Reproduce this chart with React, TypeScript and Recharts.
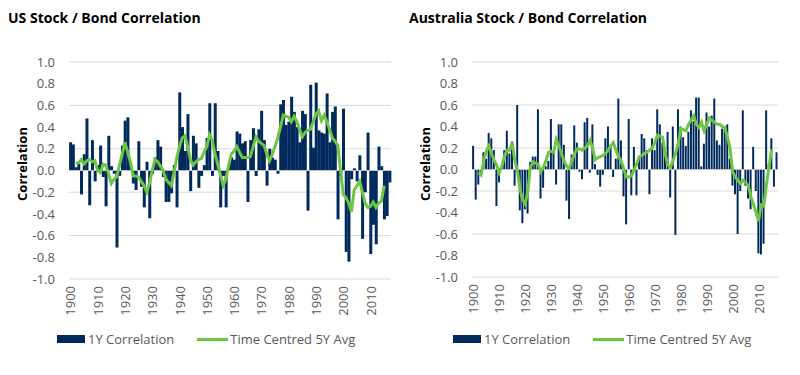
import React from 'react';
import { ComposedChart, Bar, Line, XAxis, YAxis, CartesianGrid, ReferenceLine } from 'recharts';

const years = [
  1900, 1901, 1902, 1903, 1904, 1905, 1906, 1907, 1908, 1909,
  1910, 1911, 1912, 1913, 1914, 1915, 1916, 1917, 1918, 1919,
  1920, 1921, 1922, 1923, 1924, 1925, 1926, 1927, 1928, 1929,
  1930, 1931, 1932, 1933, 1934, 1935, 1936, 1937, 1938, 1939,
  1940, 1941, 1942, 1943, 1944, 1945, 1946, 1947, 1948, 1949,
  1950, 1951, 1952, 1953, 1954, 1955, 1956, 1957, 1958, 1959,
  1960, 1961, 1962, 1963, 1964, 1965, 1966, 1967, 1968, 1969,
  1970, 1971, 1972, 1973, 1974, 1975, 1976, 1977, 1978, 1979,
  1980, 1981, 1982, 1983, 1984, 1985, 1986, 1987, 1988, 1989,
  1990, 1991, 1992, 1993, 1994, 1995, 1996, 1997, 1998, 1999,
  2000, 2001, 2002, 2003, 2004, 2005, 2006, 2007, 2008, 2009,
  2010, 2011, 2012, 2013, 2014, 2015, 2016, 2017,
];

const usCorr1Y = [
  0.26, 0.24, 0.03, 0.06, -0.22, 0.15, 0.48, -0.32, 0.28, -0.10,
  0.05, 0.23, -0.06, -0.33, 0.32, 0.04, -0.03, -0.71, -0.05, 0.23,
  0.46, 0.49, 0.06, -0.12, -0.18, 0.27, -0.15, -0.34, 0.08, -0.44,
  -0.03, 0.12, 0.28, 0.22, -0.06, -0.29, -0.29, -0.21, 0.05, -0.34,
  0.72, 0.40, 0.18, 0.52, -0.19, 0.32, 0.25, -0.16, -0.05, 0.05,
  0.30, 0.62, -0.05, 0.62, 0.18, -0.34, -0.05, -0.34, 0.05, 0.12,
  0.10, 0.36, 0.34, 0.25, 0.27, -0.29, 0.28, 0.39, -0.05, 0.38,
  0.55, 0.28, -0.14, 0.20, 0.12, 0.10, -0.03, 0.61, 0.65, 0.42,
  0.45, 0.68, 0.54, 0.40, 0.26, 0.55, 0.52, -0.37, 0.79, 0.21,
  0.81, 0.37, 0.35, 0.34, 0.71, 0.26, 0.54, 0.59, -0.45, -0.05,
  0.57, -0.75, -0.84, -0.08, 0.02, -0.10, 0.14, -0.63, -0.20, 0.35,
  -0.77, -0.50, -0.68, 0.22, 0.04, -0.45, -0.42, -0.11,
];

const usAvg5Y = [
  null, null, 0.07, 0.07, 0.10, 0.06, 0.09, 0.10, 0.08, 0.09,
  0.00, -0.02, 0.06, 0.05, -0.03, -0.12, -0.08, -0.06, 0.05, 0.15,
  0.26, 0.17, 0.08, -0.05, -0.05, -0.06, -0.10, -0.14, -0.20, -0.12,
  0.00, 0.10, 0.08, 0.04, 0.00, -0.08, -0.11, -0.14, -0.02, 0.12,
  0.22, 0.30, 0.32, 0.22, 0.10, 0.05, 0.08, 0.10, 0.11, 0.17,
  0.22, 0.33, 0.28, 0.15, 0.06, -0.04, -0.14, -0.08, 0.05, 0.15,
  0.18, 0.22, 0.17, 0.12, 0.12, 0.12, 0.13, 0.22, 0.31, 0.27,
  0.25, 0.23, 0.15, 0.09, 0.15, 0.22, 0.30, 0.40, 0.51, 0.50,
  0.49, 0.45, 0.50, 0.45, 0.38, 0.31, 0.35, 0.37, 0.38, 0.45,
  0.52, 0.55, 0.46, 0.51, 0.45, 0.38, 0.30, 0.27, 0.23, 0.00,
  -0.22, -0.25, -0.30, -0.38, -0.18, -0.14, -0.10, -0.20, -0.30, -0.34,
  -0.33, -0.29, -0.34, -0.30, -0.28, -0.14, null, null,
];

const auCorr1Y = [
  0.22, -0.28, -0.14, -0.05, 0.16, 0.10, 0.34, 0.29, 0.18, -0.34,
  -0.12, 0.02, 0.18, 0.36, 0.15, 0.26, -0.15, 0.60, -0.38, -0.50,
  -0.37, -0.41, 0.07, 0.12, 0.12, 0.56, -0.27, -0.17, 0.03, 0.08,
  0.47, 0.18, -0.14, 0.42, 0.42, 0.23, -0.29, -0.46, 0.14, 0.41,
  0.25, -0.02, -0.09, 0.44, 0.48, -0.03, 0.42, 0.05, -0.05, -0.16,
  -0.05, 0.29, 0.40, 0.21, -0.07, 0.10, 0.66, 0.27, -0.25, -0.51,
  0.47, -0.24, 0.21, -0.24, 0.12, 0.33, 0.29, 0.18, -0.23, 0.29,
  0.18, 0.56, 0.42, 0.25, 0.20, 0.35, -0.26, 0.40, -0.61, 0.56,
  0.40, 0.30, 0.22, 0.35, 0.55, 0.45, 0.67, 0.67, 0.03, 0.24,
  0.53, 0.40, 0.50, 0.66, 0.27, 0.23, 0.38, 0.40, 0.42, 0.10,
  -0.15, -0.23, -0.60, -0.20, 0.55, -0.15, -0.27, -0.37, 0.21, -0.20,
  -0.78, -0.79, -0.69, 0.55, 0.05, 0.29, -0.16, 0.16,
];

const auAvg5Y = [
  null, null, -0.03, -0.05, 0.08, 0.17, 0.22, 0.15, 0.09, 0.04,
  -0.03, 0.03, 0.12, 0.18, 0.18, 0.25, 0.08, -0.01, -0.18, -0.28,
  -0.32, -0.21, 0.02, 0.07, 0.06, 0.05, -0.02, 0.02, 0.08, 0.16,
  0.17, 0.16, 0.28, 0.22, 0.15, 0.08, 0.03, 0.01, 0.08, 0.15,
  0.19, 0.19, 0.18, 0.20, 0.22, 0.27, 0.20, 0.09, 0.11, 0.12,
  0.13, 0.15, 0.18, 0.22, 0.25, 0.18, 0.12, 0.08, 0.01, -0.07,
  -0.07, -0.06, 0.00, 0.05, 0.12, 0.13, 0.15, 0.16, 0.18, 0.20,
  0.25, 0.32, 0.31, 0.30, 0.15, 0.04, 0.02, 0.08, 0.15, 0.24,
  0.38, 0.37, 0.36, 0.42, 0.46, 0.50, 0.42, 0.39, 0.44, 0.36,
  0.42, 0.48, 0.46, 0.44, 0.42, 0.42, 0.40, 0.39, 0.30, 0.20,
  -0.02, -0.07, -0.10, -0.13, -0.10, -0.12, -0.15, -0.25, -0.32, -0.40,
  -0.48, -0.33, -0.34, -0.15, 0.02, 0.19, null, null,
];

const yTicks = [-1.0, -0.8, -0.6, -0.4, -0.2, 0, 0.2, 0.4, 0.6, 0.8, 1.0];

const usData = years.map((year, i) => ({ year, bar: usCorr1Y[i], avg: usAvg5Y[i] }));
const auData = years.map((year, i) => ({ year, bar: auCorr1Y[i], avg: auAvg5Y[i] }));

const NAVY = '#002a5c';
const GREEN = '#6cc644';
const GRID = '#d9d9d9';
const TXT = '#595959';
const FONT = '"Open Sans", sans-serif';

function YearTick(props: any) {
  const { x, y, payload } = props;
  return (
    <text
      x={x}
      y={y}
      transform={`rotate(-90 ${x} ${y})`}
      textAnchor="end"
      dominantBaseline="central"
      fill={TXT}
      fontSize={13}
      fontFamily={FONT}
    >
      {payload.value}
    </text>
  );
}

function Panel(props: { data: any[]; yAxisWidth: number; marginRight: number; top: number; xAxisHeight: number }) {
  const { data, yAxisWidth, marginRight, top, xAxisHeight } = props;
  return (
    <ComposedChart
      width={400}
      height={375}
      data={data}
      margin={{ top, right: marginRight, bottom: 0, left: 0 }}
      barCategoryGap="4%"
    >
      <CartesianGrid vertical={false} stroke={GRID} />
      <XAxis
        dataKey="year"
        interval={9}
        tickLine={false}
        axisLine={false}
        height={xAxisHeight}
        tickMargin={1}
        tick={<YearTick />}
      />
      <YAxis
        domain={[-1, 1]}
        ticks={yTicks}
        width={yAxisWidth}
        tickLine={false}
        axisLine={false}
        tickMargin={8}
        allowDataOverflow
        tick={{ fill: TXT, fontSize: 13, fontFamily: FONT }}
        tickFormatter={(v: number) => v.toFixed(1)}
      />
      <ReferenceLine y={0} stroke="#bfbfbf" />
      <Bar dataKey="bar" fill={NAVY} isAnimationActive={false} />
      <Line dataKey="avg" stroke={GREEN} strokeWidth={3} dot={false} activeDot={false} type="linear" isAnimationActive={false} />
    </ComposedChart>
  );
}

function LegendBox(props: { left: number; top: number }) {
  return (
    <div
      style={{
        position: 'absolute',
        left: props.left,
        top: props.top,
        display: 'flex',
        alignItems: 'center',
        fontFamily: FONT,
        fontSize: 13,
        color: TXT,
        whiteSpace: 'nowrap',
        lineHeight: '18px',
      }}
    >
      <span style={{ display: 'inline-block', width: 28, height: 8, background: NAVY }} />
      <span style={{ marginLeft: 3 }}>1Y Correlation</span>
      <span style={{ display: 'inline-block', width: 31, height: 3, background: GREEN, marginLeft: 23 }} />
      <span style={{ marginLeft: 2 }}>Time Centred 5Y Avg</span>
    </div>
  );
}

const titleStyle: React.CSSProperties = {
  position: 'absolute',
  top: 8,
  fontFamily: FONT,
  fontWeight: 700,
  fontSize: 14,
  lineHeight: '19px',
  color: '#000',
  whiteSpace: 'nowrap',
};

const yLabelStyle: React.CSSProperties = {
  position: 'absolute',
  fontFamily: FONT,
  fontWeight: 700,
  fontSize: 13,
  color: '#000',
  whiteSpace: 'nowrap',
  transform: 'translate(-50%, -50%) rotate(-90deg)',
};

export default function App() {
  return (
    <div style={{ position: 'absolute', left: 0, top: 0, width: 800, height: 375, background: '#fff', overflow: 'hidden' }}>
      <div style={{ position: 'absolute', left: 0, top: 0 }}>
        <Panel data={usData} yAxisWidth={69} marginRight={9} top={62} xAxisHeight={96} />
      </div>
      <div style={{ position: 'absolute', left: 400, top: 0 }}>
        <Panel data={auData} yAxisWidth={72} marginRight={22} top={62} xAxisHeight={98} />
      </div>
      <div style={{ ...titleStyle, left: 8 }}>US Stock / Bond Correlation</div>
      <div style={{ ...titleStyle, left: 409 }}>Australia Stock / Bond Correlation</div>
      <div style={{ ...yLabelStyle, left: 22, top: 164 }}>Correlation</div>
      <div style={{ ...yLabelStyle, left: 425, top: 164 }}>Correlation</div>
      <LegendBox left={57} top={330} />
      <LegendBox left={453} top={330} />
    </div>
  );
}
